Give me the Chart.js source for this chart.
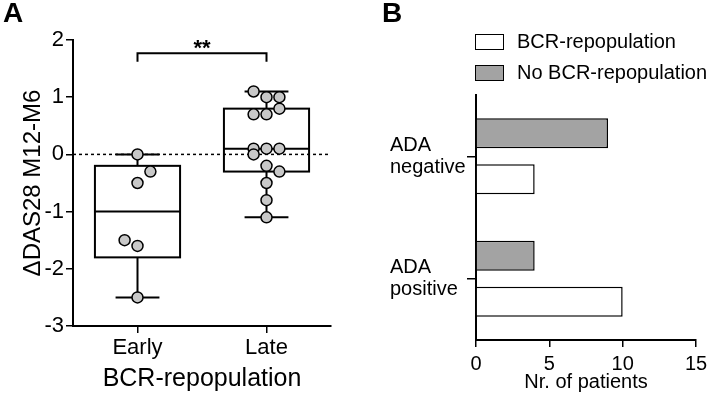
<!DOCTYPE html>
<html>
<head>
<meta charset="utf-8">
<script src="https://cdn.jsdelivr.net/npm/chart.js@4"></script>
<style>
  body { margin: 0; background: #fff; font-family: "Liberation Sans", Arial, sans-serif; }
  #wrap { position: relative; width: 708px; height: 394px; overflow: hidden; }
  .panel { position: absolute; top: 0; }
  .tag { position: absolute; top: -3px; font-weight: bold; font-size: 28px; }
  #legend { position: absolute; left: 475px; top: 26px; font-size: 20px; }
  .item { display: flex; align-items: center; height: 31px; white-space: nowrap; }
  .swatch { width: 27px; height: 14px; border: 1.5px solid #000; margin-right: 13px; }
</style>
</head>
<body>
<div id="wrap">
  <div class="panel" style="left:0"><canvas id="boxChart" width="350" height="394"></canvas></div>
  <div class="panel" style="left:380px"><canvas id="barChart" width="328" height="394"></canvas></div>
  <div class="tag" style="left:3px">A</div>
  <div class="tag" style="left:382px">B</div>
  <div id="legend"></div>
</div>
<script>
// panel A: delta DAS28 by timing of BCR repopulation
const groupLabels = ["Early", "Late"];
const earlyValues = [0, -0.3, -0.5, -1.5, -1.6, -2.5];
const earlyJitter = [0, 0.1, 0, -0.1, 0, 0];
const lateValues = [1.1, 1.0, 1.0, 0.8, 0.7, 0.7, 0.1, 0.1, 0.1, 0.0, -0.2, -0.3, -0.5, -0.8, -1.1];
const lateJitter = [-0.1, 0, 0.1, 0.1, -0.1, 0, -0.1, 0, 0.1, -0.1, 0, 0.1, 0, 0, 0];
const boxMin = [-2.5, -1.1];
const boxQ1 = [-1.8, -0.3];
const boxMedian = [-1.0, 0.1];
const boxQ3 = [-0.2, 0.8];
const boxMax = [0, 1.1];
const sigLabel = "**";

// panel B: ADA status vs BCR repopulation
const adaCategories = [["ADA", "negative"], ["ADA", "positive"]];
const seriesNames = ["BCR-repopulation", "No BCR-repopulation"];
const bcrRepop = [4, 10];
const noBcrRepop = [9, 4];

const FONT = "'Liberation Sans', Arial, sans-serif";
const GRAY = "#a3a3a3";
const DOT = "#c8c8c8";
const BOX_HALF = 0.33;
const CAP_HALF = 0.17;
const BRACKET_Y = 1.77;
const BRACKET_DROP = 0.15;

Chart.defaults.font.family = FONT;
Chart.defaults.color = "#000";
Chart.defaults.animation = false;

const toPoints = (vals, jit, g) => vals.map((v, i) => ({ x: g + jit[i], y: v }));

const boxPlugin = {
  id: "boxes",
  beforeDatasetsDraw(chart) {
    const { ctx, chartArea, scales: { x, y } } = chart;
    ctx.save();
    ctx.strokeStyle = "#000";
    ctx.lineWidth = 1.5;
    ctx.setLineDash([3, 3]);
    ctx.beginPath();
    ctx.moveTo(chartArea.left, y.getPixelForValue(0));
    ctx.lineTo(chartArea.right, y.getPixelForValue(0));
    ctx.stroke();
    ctx.setLineDash([]);
    ctx.lineWidth = 2;
    groupLabels.forEach((g, i) => {
      const xl = x.getPixelForValue(i - BOX_HALF);
      const xr = x.getPixelForValue(i + BOX_HALF);
      const xc = x.getPixelForValue(i);
      const cl = x.getPixelForValue(i - CAP_HALF);
      const cr = x.getPixelForValue(i + CAP_HALF);
      const top = y.getPixelForValue(boxQ3[i]);
      const bot = y.getPixelForValue(boxQ1[i]);
      ctx.strokeRect(xl, top, xr - xl, bot - top);
      const med = y.getPixelForValue(boxMedian[i]);
      const hi = y.getPixelForValue(boxMax[i]);
      const lo = y.getPixelForValue(boxMin[i]);
      ctx.beginPath();
      ctx.moveTo(xl, med); ctx.lineTo(xr, med);
      ctx.moveTo(xc, top); ctx.lineTo(xc, hi);
      ctx.moveTo(cl, hi); ctx.lineTo(cr, hi);
      ctx.moveTo(xc, bot); ctx.lineTo(xc, lo);
      ctx.moveTo(cl, lo); ctx.lineTo(cr, lo);
      ctx.stroke();
    });
    // significance bracket
    const b = y.getPixelForValue(BRACKET_Y);
    const bd = y.getPixelForValue(BRACKET_Y - BRACKET_DROP);
    const x0 = x.getPixelForValue(0), x1 = x.getPixelForValue(1);
    ctx.beginPath();
    ctx.moveTo(x0, bd); ctx.lineTo(x0, b); ctx.lineTo(x1, b); ctx.lineTo(x1, bd);
    ctx.stroke();
    ctx.fillStyle = "#000";
    ctx.font = "bold 22px " + FONT;
    ctx.textAlign = "center";
    ctx.textBaseline = "bottom";
    ctx.fillText(sigLabel, (x0 + x1) / 2, b + 7);
    ctx.restore();
  }
};

new Chart(document.getElementById("boxChart"), {
  type: "scatter",
  data: {
    datasets: [
      { data: toPoints(earlyValues, earlyJitter, 0) },
      { data: toPoints(lateValues, lateJitter, 1) }
    ].map(d => Object.assign(d, {
      pointRadius: 5.5, pointBackgroundColor: DOT, pointBorderColor: "#000",
      pointBorderWidth: 1.5, clip: false
    }))
  },
  options: {
    responsive: false,
    layout: { padding: { top: 40, right: 19, left: 0, bottom: 0 } },
    plugins: { legend: { display: false }, tooltip: { enabled: false } },
    scales: {
      x: {
        type: "linear", min: -0.5, max: 1.5,
        afterBuildTicks: a => { a.ticks = groupLabels.map((_, i) => ({ value: i })); },
        afterFit: s => { s.height = 68; },
        ticks: { callback: v => groupLabels[v], font: { size: 22 }, padding: 2, maxRotation: 0 },
        grid: { drawOnChartArea: false, tickLength: 7, color: "#000", lineWidth: 1.5 },
        border: { color: "#000", width: 2 },
        title: { display: true, text: "BCR-repopulation", font: { size: 25 }, padding: { top: 0, bottom: 0 } }
      },
      y: {
        min: -3, max: 2,
        afterFit: s => { s.width = 73; },
        ticks: { stepSize: 1, font: { size: 22 }, padding: 2 },
        grid: { drawOnChartArea: false, tickLength: 7, color: "#000", lineWidth: 1.5 },
        border: { color: "#000", width: 2 },
        title: { display: true, text: "ΔDAS28 M12-M6", font: { size: 24 }, padding: { top: 19, bottom: 0 } }
      }
    }
  },
  plugins: [boxPlugin]
});

const fills = [ "#fff", GRAY ];
const series = [bcrRepop, noBcrRepop];

new Chart(document.getElementById("barChart"), {
  type: "bar",
  data: {
    labels: adaCategories,
    // grey series sits above the white one inside each category
    datasets: [1, 0].map(k => ({
      label: seriesNames[k],
      data: series[k],
      backgroundColor: fills[k],
      borderColor: "#000",
      borderWidth: 1.5,
      categoryPercentage: 0.75,
      barPercentage: 0.65
    }))
  },
  options: {
    responsive: false,
    indexAxis: "y",
    layout: { padding: { top: 95, right: 12, left: 10, bottom: 0 } },
    plugins: { legend: { display: false }, tooltip: { enabled: false } },
    scales: {
      x: {
        min: 0, max: 15,
        afterFit: s => { s.height = 54; s.paddingRight = 0; s.paddingLeft = 0; },
        ticks: { stepSize: 5, font: { size: 20 }, padding: 5 },
        grid: { drawOnChartArea: false, tickLength: 7, color: "#000", lineWidth: 1.5 },
        border: { color: "#000", width: 2 },
        title: { display: true, text: "Nr. of patients", font: { size: 20 }, padding: { top: 0, bottom: 0 } }
      },
      y: {
        afterFit: s => { s.width = 86; },
        ticks: { crossAlign: "far", font: { size: 20, lineHeight: 1.1 } },
        grid: { offset: false, drawOnChartArea: false, tickLength: 9, color: "#000", lineWidth: 1.5 },
        border: { color: "#000", width: 2 }
      }
    }
  }
});

document.getElementById("legend").innerHTML = seriesNames.map((n, k) =>
  `<div class="item"><span class="swatch" style="background:${fills[k]}"></span>${n}</div>`
).join("");
</script>
</body>
</html>
